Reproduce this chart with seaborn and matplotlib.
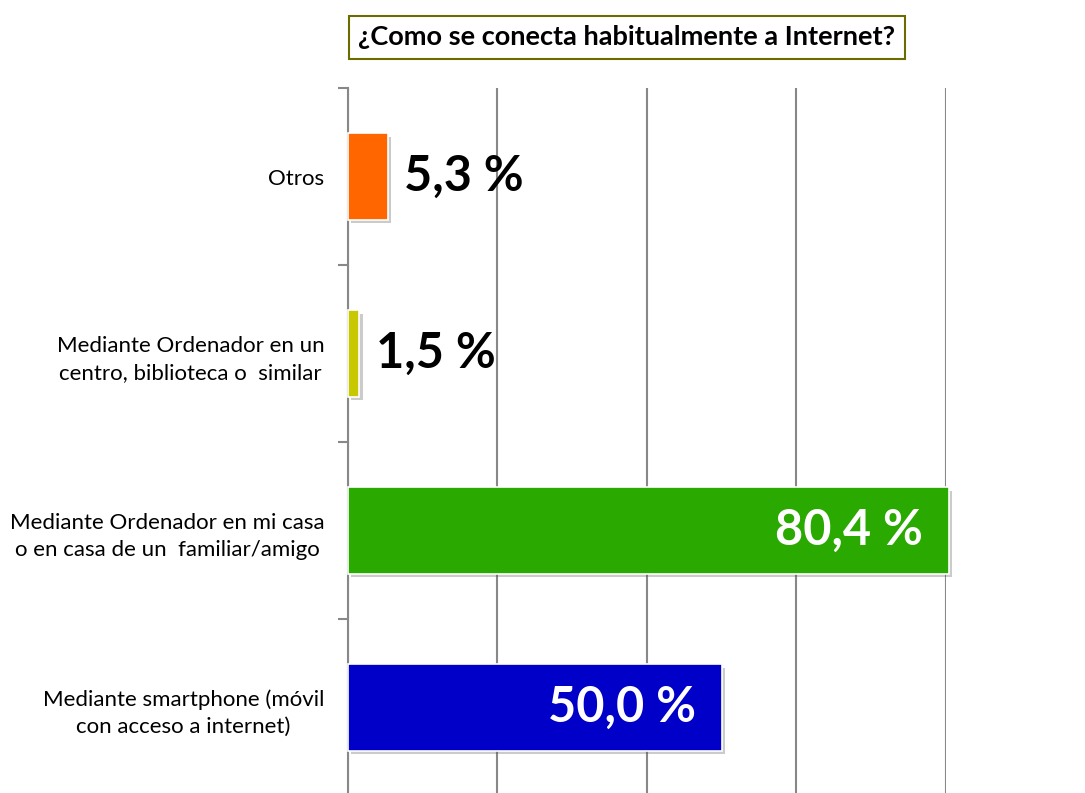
import numpy as np
import pandas as pd
import matplotlib.pyplot as plt
import matplotlib.patheffects as pe
import seaborn as sns

sns.set_style("white")
plt.rcParams['font.family'] = ['Lato', 'DejaVu Sans']

# Data
categories = [
    "Otros",
    "Mediante Ordenador en un\ncentro, biblioteca o  similar",
    "Mediante Ordenador en mi casa\no en casa de un  familiar/amigo",
    "Mediante smartphone (móvil\ncon acceso a internet)",
]
values = [5.3, 1.5, 80.4, 50.0]
colors = ["#FF6600", "#C8C800", "#2AAA00", "#0000C8"]
title = "¿Como se conecta habitualmente a Internet?"

df = pd.DataFrame({"cat": categories, "val": values})

fig = plt.figure(figsize=(10.85, 7.93), dpi=100)
ax = fig.add_axes([0.3207, -0.0038, 0.5512, 0.8928])

sns.barplot(data=df, x="val", y="cat", hue="cat", palette=colors, legend=False,
            orient="h", width=0.49, saturation=1, ax=ax, edgecolor="white",
            linewidth=1.2, zorder=3)

for bar in ax.patches:
    bar.set_clip_on(False)
    bar.set_path_effects([pe.SimplePatchShadow(offset=(2.5, -2.5), alpha=0.3, shadow_rgbFace="#555555"),
                          pe.Normal()])

# value labels
for i, v in enumerate(values):
    txt = f"{v:.1f}".replace(".", ",") + " %"
    if v > 20:
        ax.text(v - 3.5, i, txt, ha="right", va="center", color="white",
                fontsize=35, fontweight="bold", zorder=5)
    else:
        ax.text(v + 2.2, i, txt, ha="left", va="center", color="black",
                fontsize=35, fontweight="bold", zorder=5)

ax.set_xlim(0, 80)
ax.set_ylim(3.5, -0.5)
ax.set_xticks([0, 20, 40, 60, 80])
ax.set_xticklabels([])
ax.tick_params(axis="x", length=0)
ax.grid(axis="x", color="#888888", linewidth=1.5, zorder=0)
ax.set_axisbelow(True)

ax.set_xlabel("")
ax.set_ylabel("")
ax.set_yticks(range(len(categories)))
ax.set_yticklabels(categories, fontsize=16, multialignment="center",
                   linespacing=1.45, color="black")
ax.set_yticks([-0.5, 0.5, 1.5, 2.5, 3.5], minor=True)
ax.tick_params(axis="y", which="major", length=0, pad=17)
ax.tick_params(axis="y", which="minor", length=7, width=1.5, color="#888888", left=True)

for s in ["top", "right", "bottom"]:
    ax.spines[s].set_visible(False)
ax.spines["left"].set_color("#888888")
ax.spines["left"].set_linewidth(1.5)

fig.text(0.5775, 0.953, title, ha="center", va="center", fontsize=19.5, fontweight="bold",
         color="black",
         bbox=dict(boxstyle="square,pad=0.35", facecolor="white", edgecolor="#6B6B00", linewidth=1.5))

fig.savefig("out.png", dpi=100)
